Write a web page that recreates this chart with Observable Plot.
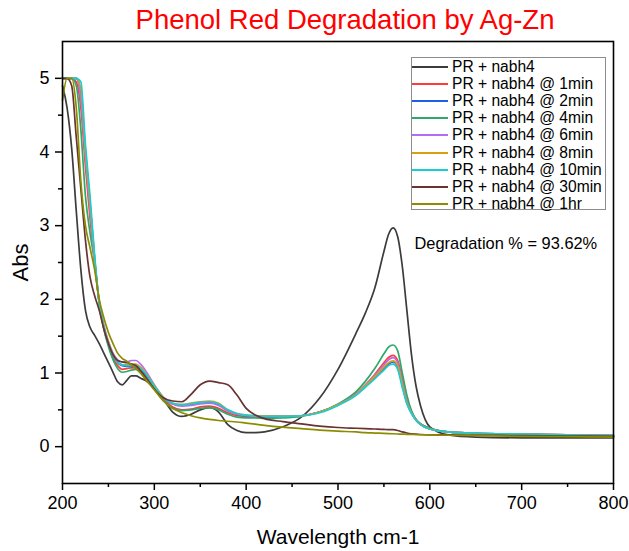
<!DOCTYPE html>
<html>
<head>
<meta charset="utf-8">
<script src="https://cdn.jsdelivr.net/npm/d3@7"></script>
<script src="https://cdn.jsdelivr.net/npm/@observablehq/plot@0.6"></script>
<style>
  html, body { margin: 0; padding: 0; background: white; }
  #wrap { position: relative; width: 629px; height: 551px; font-family: "Liberation Sans", Arial, sans-serif; }
  #title { position: absolute; left: 345px; top: 20px; transform: translate(-50%, -50%); color: #ff0000; font-size: 27.5px; white-space: nowrap; line-height: 1; }
  #chart { position: absolute; left: 0; top: 36px; }
  #legend { position: absolute; left: 411px; top: 57px; width: 195px; height: 153px; border: 1px solid #8c8c8c; background: white; box-sizing: border-box; }
  .item { position: absolute; left: 0; height: 17px; display: flex; align-items: center; font-size: 15.6px; color: #000; white-space: nowrap; }
  .item .sw { width: 36px; height: 0; border-top: 2px solid; margin-right: 4px; }
</style>
</head>
<body>
<div id="wrap">
  <div id="title">Phenol Red Degradation by Ag-Zn</div>
  <div id="chart"></div>
  <div id="legend"></div>
</div>
<script>
const wavelengths = [200,205,210,215,220,225,230,235,240,245,250,255,260,265,270,275,280,285,290,
  300,310,320,330,340,350,360,370,380,390,400,410,420,
  440,460,480,500,520,
  530,540,550,
  555,560,565,570,575,580,585,590,
  600,620,650,700,750,800];

const seriesNames = ["PR + nabh4","PR + nabh4 @ 1min","PR + nabh4 @ 2min","PR + nabh4 @ 4min",
  "PR + nabh4 @ 6min","PR + nabh4 @ 8min","PR + nabh4 @ 10min","PR + nabh4 @ 30min","PR + nabh4 @ 1hr"];
const seriesColors = ["#3c3c3c","#ff3b3b","#1f5fe8","#2ca869","#b56cf0","#d6a012","#19cdd3","#6b3232","#8c8c00"];

const absPR = [4.9,4.6,4.05,3.2,2.4,1.85,1.62,1.51,1.4,1.27,1.14,1.01,0.88,0.84,0.9,0.96,0.96,0.93,0.9,
  0.8,0.64,0.47,0.41,0.44,0.5,0.53,0.47,0.3,0.22,0.19,0.19,0.2,
  0.27,0.4,0.66,1.05,1.55,
  1.82,2.15,2.65,
  2.88,2.97,2.85,2.45,1.85,1.25,0.82,0.55,
  0.27,0.16,0.13,0.12,0.12,0.12];
const abs1min = [5,5,5,4.95,4.6,3.8,3.1,2.5,1.95,1.6,1.38,1.2,1.1,1.05,1.06,1.07,1.07,1.03,0.96,
  0.8,0.64,0.54,0.5,0.51,0.54,0.55,0.52,0.46,0.42,0.41,0.4,0.4,
  0.4,0.42,0.47,0.57,0.72,
  0.84,0.98,1.14,
  1.21,1.24,1.17,0.92,0.64,0.47,0.37,0.31,
  0.25,0.2,0.18,0.17,0.16,0.15];
const abs2min = [5,5,5,5,4.8,4.0,3.3,2.55,1.95,1.62,1.4,1.24,1.14,1.1,1.09,1.09,1.09,1.05,0.99,
  0.82,0.66,0.58,0.56,0.57,0.59,0.6,0.57,0.49,0.44,0.42,0.41,0.41,
  0.41,0.42,0.47,0.57,0.71,
  0.82,0.94,1.06,
  1.12,1.15,1.08,0.84,0.6,0.46,0.36,0.3,
  0.24,0.2,0.18,0.17,0.16,0.15];
const abs4min = [5,5,5,4.9,4.3,3.4,2.9,2.5,1.95,1.6,1.36,1.18,1.06,1.01,1.02,1.04,1.05,1.0,0.93,
  0.78,0.62,0.52,0.49,0.5,0.52,0.53,0.5,0.44,0.4,0.39,0.39,0.385,
  0.39,0.41,0.47,0.58,0.75,
  0.89,1.06,1.26,
  1.35,1.38,1.3,1.0,0.7,0.49,0.37,0.31,
  0.25,0.2,0.18,0.17,0.16,0.15];
const abs6min = [5,5,5,5,4.7,3.9,3.2,2.5,1.98,1.65,1.43,1.27,1.18,1.15,1.15,1.17,1.17,1.12,1.04,
  0.84,0.67,0.58,0.55,0.56,0.58,0.59,0.56,0.48,0.44,0.42,0.41,0.41,
  0.41,0.42,0.47,0.57,0.72,
  0.84,0.97,1.11,
  1.18,1.21,1.14,0.88,0.62,0.46,0.36,0.3,
  0.24,0.2,0.18,0.17,0.16,0.15];
const abs8min = [5,5,5,5,4.85,4.0,3.3,2.55,1.97,1.63,1.42,1.25,1.15,1.11,1.11,1.12,1.12,1.08,1.01,
  0.83,0.67,0.59,0.57,0.59,0.61,0.62,0.59,0.5,0.45,0.43,0.42,0.42,
  0.41,0.42,0.47,0.57,0.71,
  0.83,0.95,1.08,
  1.14,1.165,1.1,0.85,0.6,0.46,0.36,0.3,
  0.24,0.2,0.18,0.17,0.16,0.15];
const abs10min = [5,5,5,5,4.95,4.1,3.4,2.6,1.95,1.62,1.4,1.25,1.15,1.11,1.1,1.1,1.1,1.06,1.0,
  0.82,0.66,0.59,0.57,0.58,0.6,0.61,0.58,0.5,0.45,0.43,0.42,0.41,
  0.41,0.42,0.46,0.56,0.7,
  0.81,0.92,1.04,
  1.1,1.12,1.05,0.8,0.58,0.45,0.36,0.3,
  0.24,0.2,0.18,0.17,0.16,0.15];
const abs30min = [5,5,4.9,4.2,3.5,2.8,2.3,2.05,1.85,1.6,1.4,1.25,1.17,1.15,1.14,1.12,1.1,1.03,0.95,
  0.78,0.66,0.62,0.61,0.71,0.84,0.89,0.87,0.84,0.7,0.52,0.43,0.38,
  0.34,0.31,0.28,0.26,0.25,
  0.245,0.24,0.235,
  0.23,0.23,0.22,0.2,0.185,0.175,0.17,0.165,
  0.16,0.16,0.155,0.15,0.145,0.14];
const abs1hr = [4.7,5,5,4.6,3.6,3.0,2.7,2.4,2.0,1.75,1.55,1.4,1.27,1.2,1.16,1.11,1.06,1.0,0.92,
  0.77,0.62,0.52,0.46,0.42,0.39,0.37,0.355,0.345,0.335,0.32,0.305,0.29,
  0.265,0.245,0.225,0.21,0.2,
  0.19,0.185,0.18,
  0.178,0.175,0.172,0.17,0.168,0.166,0.164,0.162,
  0.16,0.155,0.15,0.14,0.135,0.13];

const xMajorTicks = [200,300,400,500,600,700,800];
const xMinorTicks = [250,350,450,550,650,750];
const yMajorTicks = [0,1,2,3,4,5];
const yMinorTicks = [0.5,1.5,2.5,3.5,4.5];

const allSeries = [absPR,abs1min,abs2min,abs4min,abs6min,abs8min,abs10min,abs30min,abs1hr];
const rows = [];
allSeries.forEach((vals, si) => {
  vals.forEach((v, i) => rows.push({series: seriesNames[si], wl: wavelengths[i], abs: v}));
});

const chart = Plot.plot({
  width: 629,
  height: 515,
  marginTop: 5,
  marginBottom: 68,
  marginLeft: 62,
  marginRight: 16,
  style: {fontFamily: "'Liberation Sans', Arial, sans-serif", fontSize: "18px", color: "#000", background: "white"},
  x: {domain: [200, 800]},
  y: {domain: [-0.5, 5.5]},
  color: {domain: seriesNames, range: seriesColors},
  marks: [
    Plot.axisX({ticks: xMinorTicks, tickSize: 4, text: null, label: null, strokeWidth: 1.5}),
    Plot.axisX({ticks: xMajorTicks, tickSize: 7, tickPadding: 6, tickFormat: d3.format("d"), label: null, strokeWidth: 1.5}),
    Plot.axisY({ticks: yMinorTicks, tickSize: 4, text: null, label: null, strokeWidth: 1.5}),
    Plot.axisY({ticks: yMajorTicks, tickSize: 7, tickPadding: 6, tickFormat: d3.format("d"), label: null, strokeWidth: 1.5}),
    Plot.line(rows, {x: "wl", y: "abs", z: "series", stroke: "series", strokeWidth: 1.7, curve: "monotone-x"}),
    Plot.frame({stroke: "#000", strokeWidth: 1.6}),
    Plot.text(["Wavelength cm-1"], {frameAnchor: "bottom", dy: 54, fontSize: 21, lineAnchor: "middle"}),
    Plot.text(["Abs"], {frameAnchor: "left", dx: -42, rotate: -90, fontSize: 22, textAnchor: "middle"}),
    Plot.text(["Degradation % = 93.62%"], {frameAnchor: "top-left", dx: 352, dy: 202, fontSize: 16.4, textAnchor: "start", lineAnchor: "middle"})
  ]
});
document.getElementById("chart").appendChild(chart);

const legend = document.getElementById("legend");
seriesNames.forEach((name, i) => {
  const it = document.createElement("div");
  it.className = "item";
  it.style.top = (0.5 + i * 17.1) + "px";
  const sw = document.createElement("span");
  sw.className = "sw";
  sw.style.borderTopColor = seriesColors[i];
  const tx = document.createElement("span");
  tx.textContent = name;
  it.appendChild(sw);
  it.appendChild(tx);
  legend.appendChild(it);
});
</script>
</body>
</html>
